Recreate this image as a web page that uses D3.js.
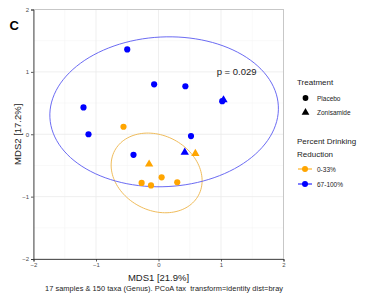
<!DOCTYPE html>
<html>
<head>
<meta charset="utf-8">
<script src="https://cdn.jsdelivr.net/npm/d3@7"></script>
<style>
body { margin: 0; background: #fff; }
text { font-family: "Liberation Sans", Arial, sans-serif; }
</style>
</head>
<body>
<script>
const width = 369;
const height = 294;

// samples
const mds1 = [-0.50, -0.07, 0.43, -1.20, -1.12, 0.52, -0.40, 1.02, 1.04, 0.42, -0.56, -0.27, -0.12, 0.05, 0.30, -0.15, 0.59];
const mds2 = [1.36, 0.80, 0.77, 0.43, 0.00, -0.03, -0.33, 0.53, 0.55, -0.29, 0.12, -0.78, -0.82, -0.69, -0.77, -0.48, -0.31];
const treatment = ["Placebo", "Placebo", "Placebo", "Placebo", "Placebo", "Placebo", "Placebo", "Placebo", "Zonisamide", "Zonisamide",
    "Placebo", "Placebo", "Placebo", "Placebo", "Placebo", "Zonisamide", "Zonisamide"];
const reduction = ["67-100%", "67-100%", "67-100%", "67-100%", "67-100%", "67-100%", "67-100%", "67-100%", "67-100%", "67-100%",
    "0-33%", "0-33%", "0-33%", "0-33%", "0-33%", "0-33%", "0-33%"];

const groups = ["0-33%", "67-100%"];
const groupColors = ["#FFA500", "#0000FF"];
const ellipseStroke = ["#EDB44A", "#5A5AF0"];
// ellipse per group: centre, semi-axes, tilt (degrees)
const ellCx = [-0.03, 0.09];
const ellCy = [-0.62, 0.36];
const ellA = [0.76, 1.83];
const ellB = [0.60, 1.20];
const ellTilt = [-28, 3];

const ticks = [-2, -1, 0, 1, 2];
const shapes = ["Placebo", "Zonisamide"];

const svg = d3.select("body").append("svg")
    .attr("width", width)
    .attr("height", height);

const x = d3.scaleLinear().domain([-2, 2]).range([33.5, 283.5]);
const y = d3.scaleLinear().domain([-2, 2]).range([259, 9.5]);
const color = d3.scaleOrdinal().domain(groups).range(groupColors);
const symbol = d3.scaleOrdinal().domain(shapes).range([d3.symbolCircle, d3.symbolTriangle]);

// grid
const minor = d3.range(-1.5, 2, 1);
svg.append("g").selectAll("line.mx").data(minor).enter().append("line")
    .attr("x1", d => x(d)).attr("x2", d => x(d)).attr("y1", y(2)).attr("y2", y(-2))
    .attr("stroke", "#f2f2f2").attr("stroke-width", 0.5);
svg.append("g").selectAll("line.my").data(minor).enter().append("line")
    .attr("y1", d => y(d)).attr("y2", d => y(d)).attr("x1", x(-2)).attr("x2", x(2))
    .attr("stroke", "#f2f2f2").attr("stroke-width", 0.5);
svg.append("g").selectAll("line.gx").data(ticks).enter().append("line")
    .attr("x1", d => x(d)).attr("x2", d => x(d)).attr("y1", y(2)).attr("y2", y(-2))
    .attr("stroke", "#ebebeb").attr("stroke-width", 0.8);
svg.append("g").selectAll("line.gy").data(ticks).enter().append("line")
    .attr("y1", d => y(d)).attr("y2", d => y(d)).attr("x1", x(-2)).attr("x2", x(2))
    .attr("stroke", "#ebebeb").attr("stroke-width", 0.8);

// panel border
svg.append("rect")
    .attr("x", x(-2)).attr("y", y(2))
    .attr("width", x(2) - x(-2)).attr("height", y(-2) - y(2))
    .attr("fill", "none").attr("stroke", "#bdbdbd").attr("stroke-width", 0.8);

// axes
const xAxis = svg.append("g").attr("transform", `translate(0,${y(-2)})`)
    .call(d3.axisBottom(x).tickValues(ticks).tickSize(2.5).tickPadding(1.5).tickFormat(d3.format("d")));
const yAxis = svg.append("g").attr("transform", `translate(${x(-2)},0)`)
    .call(d3.axisLeft(y).tickValues(ticks).tickSize(2.5).tickPadding(2).tickFormat(d3.format("d")));
[xAxis, yAxis].forEach(a => {
    a.select(".domain").attr("stroke", "#333").attr("stroke-width", 0.8);
    a.selectAll(".tick line").attr("stroke", "#333").attr("stroke-width", 0.8);
    a.selectAll(".tick text").attr("fill", "#4d4d4d").style("font-size", "6px");
});

// ellipses
const line = d3.line().x(d => x(d[0])).y(d => y(d[1])).curve(d3.curveLinearClosed);
groups.forEach((g, i) => {
    const phi = ellTilt[i] * Math.PI / 180;
    const pts = d3.range(0, 2 * Math.PI, Math.PI / 60).map(t => [
        ellCx[i] + ellA[i] * Math.cos(t) * Math.cos(phi) - ellB[i] * Math.sin(t) * Math.sin(phi),
        ellCy[i] + ellA[i] * Math.cos(t) * Math.sin(phi) + ellB[i] * Math.sin(t) * Math.cos(phi)
    ]);
    svg.append("path").attr("d", line(pts))
        .attr("fill", "none").attr("stroke", ellipseStroke[i]).attr("stroke-width", 0.9);
});

// points
const samples = mds1.map((v, i) => ({x: v, y: mds2[i], t: treatment[i], r: reduction[i]}));
svg.append("g").selectAll("path").data(samples).enter().append("path")
    .attr("transform", d => `translate(${x(d.x)},${y(d.y)})`)
    .attr("d", d => d3.symbol().type(symbol(d.t)).size(30)())
    .attr("fill", d => color(d.r));

// p value
svg.append("text").attr("x", x(1.25)).attr("y", y(0.95))
    .attr("text-anchor", "middle").style("font-size", "9.5px").attr("fill", "#222")
    .text("p = 0.029");

// labels
svg.append("text").attr("x", 9.5).attr("y", 29.5).style("font-size", "13px").style("font-weight", "bold").text("C");
svg.append("text").attr("x", x(0)).attr("y", 281).attr("text-anchor", "middle")
    .style("font-size", "9.5px").attr("fill", "#222").text("MDS1 [21.9%]");
svg.append("text").attr("transform", `translate(21,${y(0)}) rotate(-90)`).attr("text-anchor", "middle")
    .style("font-size", "9.5px").attr("fill", "#222").text("MDS2 [17.2%]");
svg.append("text").attr("x", 45).attr("y", 290.5).attr("textLength", 238)
    .style("font-size", "7.4px").style("white-space", "pre").attr("fill", "#222")
    .text("17 samples & 150 taxa (Genus). PCoA tax  transform=identity dist=bray");

// legend
const lg = svg.append("g");
lg.append("text").attr("x", 297).attr("y", 85).style("font-size", "8px").attr("fill", "#222").text("Treatment");
shapes.forEach((s, i) => {
    const yy = 98 + i * 14.5;
    lg.append("path").attr("transform", `translate(305.5,${yy})`)
        .attr("d", d3.symbol().type(symbol(s)).size(26)()).attr("fill", "#000");
    lg.append("text").attr("x", 317).attr("y", yy + 2.5).style("font-size", "6.5px").attr("fill", "#222").text(s);
});
lg.append("text").attr("x", 297).attr("y", 144).style("font-size", "8px").attr("fill", "#222").text("Percent Drinking");
lg.append("text").attr("x", 297).attr("y", 157).style("font-size", "8px").attr("fill", "#222").text("Reduction");
groups.forEach((g, i) => {
    const yy = 169 + i * 15;
    lg.append("line").attr("x1", 298).attr("x2", 312).attr("y1", yy).attr("y2", yy)
        .attr("stroke", color(g)).attr("stroke-width", 1);
    lg.append("circle").attr("cx", 305).attr("cy", yy).attr("r", 3).attr("fill", color(g));
    lg.append("text").attr("x", 317).attr("y", yy + 2.5).style("font-size", "6.5px").attr("fill", "#222").text(g);
});
</script>
</body>
</html>
